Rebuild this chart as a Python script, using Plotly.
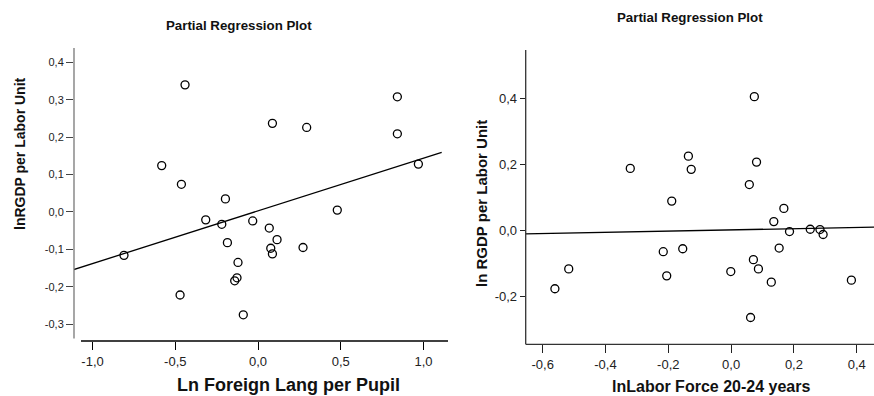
import plotly.graph_objects as go

# ---------------- data ----------------
# Left panel: Ln Foreign Lang per Pupil vs lnRGDP per Labor Unit
left_x = [-0.441, 0.842, 0.087, 0.294, 0.842, -0.582, 0.969, -0.463, -0.197,
          0.479, -0.316, -0.219, -0.032, 0.068, -0.185, -0.810, 0.077, 0.115,
          0.087, 0.272, -0.121, -0.127, -0.141, -0.471, -0.089]
left_y = [0.340, 0.308, 0.237, 0.226, 0.209, 0.124, 0.128, 0.074, 0.035,
          0.005, -0.021, -0.033, -0.024, -0.043, -0.082, -0.116, -0.097, -0.074,
          -0.112, -0.095, -0.135, -0.176, -0.184, -0.222, -0.275]
left_fit_slope = 0.141
left_fit_intercept = 0.003
left_fit_xspan = [-1.115, 1.11]

# Right panel: lnLabor Force 20-24 years vs ln RGDP per Labor Unit
right_x = [0.074, -0.136, 0.081, -0.321, -0.127, 0.058, -0.189, 0.168, 0.136,
           0.186, 0.252, 0.283, 0.293, -0.216, -0.154, 0.153, 0.071, 0.087,
           -0.517, -0.001, -0.205, 0.128, 0.383, -0.561, 0.062]
right_y = [0.405, 0.225, 0.207, 0.188, 0.185, 0.139, 0.089, 0.067, 0.027,
           -0.003, 0.004, 0.003, -0.012, -0.064, -0.055, -0.053, -0.088, -0.116,
           -0.116, -0.124, -0.137, -0.156, -0.150, -0.176, -0.263]
right_fit_slope = 0.018
right_fit_intercept = 0.002
right_fit_xspan = [-0.655, 0.455]

# Tick values and labels (comma decimal)
left_xticks = [-1.0, -0.5, 0.0, 0.5, 1.0]
left_xticktext = ["-1,0", "-0,5", "0,0", "0,5", "1,0"]
left_yticks = [-0.3, -0.2, -0.1, 0.0, 0.1, 0.2, 0.3, 0.4]
left_yticktext = ["-0,3", "-0,2", "-0,1", "0,0", "0,1", "0,2", "0,3", "0,4"]
right_xticks = [-0.6, -0.4, -0.2, 0.0, 0.2, 0.4]
right_xticktext = ["-0,6", "-0,4", "-0,2", "0,0", "0,2", "0,4"]
right_yticks = [-0.2, 0.0, 0.2, 0.4]
right_yticktext = ["-0,2", "0,0", "0,2", "0,4"]

titles = ["Partial Regression Plot", "Partial Regression Plot"]
left_xtitle = "Ln Foreign Lang per Pupil"
left_ytitle = "lnRGDP per Labor Unit"
right_xtitle = "lnLabor Force 20-24 years"
right_ytitle = "ln RGDP per Labor Unit"

# ---------------- layout helpers ----------------
W, H = 874, 396
FONT = "Arial, Liberation Sans, Helvetica, sans-serif"


def px_x(p):
    return p / W


def px_y(p):
    return 1 - p / H


fig = go.Figure()

marker = dict(symbol="circle-open", size=8, color="black", line=dict(width=1.3, color="black"))

# Left panel
fig.add_trace(go.Scatter(x=left_x, y=left_y, mode="markers", marker=marker,
                         xaxis="x", yaxis="y", showlegend=False, hoverinfo="x+y"))
lx = left_fit_xspan
fig.add_trace(go.Scatter(x=lx, y=[left_fit_slope * v + left_fit_intercept for v in lx],
                         mode="lines", line=dict(color="black", width=1.3),
                         xaxis="x", yaxis="y", showlegend=False, hoverinfo="skip"))

# Right panel
fig.add_trace(go.Scatter(x=right_x, y=right_y, mode="markers", marker=marker,
                         xaxis="x2", yaxis="y2", showlegend=False, hoverinfo="x+y"))
rx = right_fit_xspan
fig.add_trace(go.Scatter(x=rx, y=[right_fit_slope * v + right_fit_intercept for v in rx],
                         mode="lines", line=dict(color="black", width=1.3),
                         xaxis="x2", yaxis="y2", showlegend=False, hoverinfo="skip"))

# Left panel frame: px x 74..448, y 48..341
L_x0, L_x1, L_y0, L_y1 = 74, 448, 48, 341
# Right panel frame: px x 525.7..874, y 50..344.3
R_x0, R_x1, R_y0, R_y1 = 525.7, 874, 50, 344.3

axis_common = dict(showgrid=False, zeroline=False, showline=False, ticks="outside",
                   tickmode="array", fixedrange=True)

fig.update_layout(
    width=W, height=H,
    margin=dict(l=0, r=0, t=0, b=0),
    paper_bgcolor="white", plot_bgcolor="white",
    font=dict(family=FONT, color="black"),
    xaxis=dict(domain=[px_x(L_x0), px_x(L_x1)], range=[-1.112, 1.148], anchor="y",
               tickvals=left_xticks, ticktext=left_xticktext, ticklen=8, tickcolor="black",
               tickwidth=1, tickfont=dict(size=13, color="#222"), **axis_common),
    yaxis=dict(domain=[px_y(L_y1), px_y(L_y0)], range=[-0.345, 0.4385], anchor="x",
               tickvals=left_yticks, ticktext=left_yticktext, ticklen=7, tickcolor="#444",
               tickwidth=1, tickfont=dict(size=11, color="#222"), **axis_common),
    xaxis2=dict(domain=[px_x(R_x0), px_x(R_x1)], range=[-0.654, 0.455], anchor="y2",
                tickvals=right_xticks, ticktext=right_xticktext, ticklen=8, tickcolor="#222",
                tickwidth=1, tickfont=dict(size=13, color="#222"), **axis_common),
    yaxis2=dict(domain=[px_y(R_y1), px_y(R_y0)], range=[-0.344, 0.546], anchor="x2",
                tickvals=right_yticks, ticktext=right_yticktext, ticklen=5, tickcolor="#222",
                tickwidth=1, tickfont=dict(size=13, color="#222"), **axis_common),
)

# Axis lines (styling): left panel detached, right panel joined
fig.add_shape(type="line", xref="paper", yref="paper",
              x0=px_x(L_x0), x1=px_x(L_x0), y0=px_y(338.5), y1=px_y(L_y0),
              line=dict(color="#777", width=1.3))
fig.add_shape(type="line", xref="paper", yref="paper",
              x0=px_x(81), x1=px_x(L_x1), y0=px_y(L_y1), y1=px_y(L_y1),
              line=dict(color="black", width=1.3))
fig.add_shape(type="line", xref="paper", yref="paper",
              x0=px_x(R_x0), x1=px_x(R_x0), y0=px_y(R_y1), y1=px_y(R_y0),
              line=dict(color="#333", width=1.3))
fig.add_shape(type="line", xref="paper", yref="paper",
              x0=px_x(R_x0), x1=px_x(R_x1), y0=px_y(R_y1), y1=px_y(R_y1),
              line=dict(color="#333", width=1.3))

ann = []
ann.append(dict(text="<b>%s</b>" % titles[0], x=px_x(239), y=px_y(25), xref="paper", yref="paper",
                showarrow=False, font=dict(size=13.3, family=FONT, color="#111"),
                xanchor="center", yanchor="middle"))
ann.append(dict(text="<b>%s</b>" % titles[1], x=px_x(690), y=px_y(18), xref="paper", yref="paper",
                showarrow=False, font=dict(size=13.3, family=FONT, color="#111"),
                xanchor="center", yanchor="middle"))
ann.append(dict(text="<b>%s</b>" % left_ytitle, x=px_x(20), y=px_y(154), xref="paper", yref="paper",
                showarrow=False, textangle=-90, font=dict(size=14, family=FONT, color="#111"),
                xanchor="center", yanchor="middle"))
ann.append(dict(text="<b>%s</b>" % left_xtitle, x=px_x(288), y=0, xref="paper", yref="paper",
                showarrow=False, font=dict(size=18, family=FONT, color="#111"),
                xanchor="center", yanchor="bottom", borderpad=0))
ann.append(dict(text="<b>%s</b>" % right_ytitle, x=px_x(481), y=px_y(203), xref="paper", yref="paper",
                showarrow=False, textangle=-90, font=dict(size=15, family=FONT, color="#111"),
                xanchor="center", yanchor="middle"))
ann.append(dict(text="<b>%s</b>" % right_xtitle, x=px_x(711), y=0, xref="paper", yref="paper",
                showarrow=False, font=dict(size=16, family=FONT, color="#111"),
                xanchor="center", yanchor="bottom", borderpad=0))
fig.update_layout(annotations=ann)

fig.write_html("out.html", config={"displayModeBar": False},
               post_script="document.body.style.margin='0px';document.body.style.overflow='hidden';")
